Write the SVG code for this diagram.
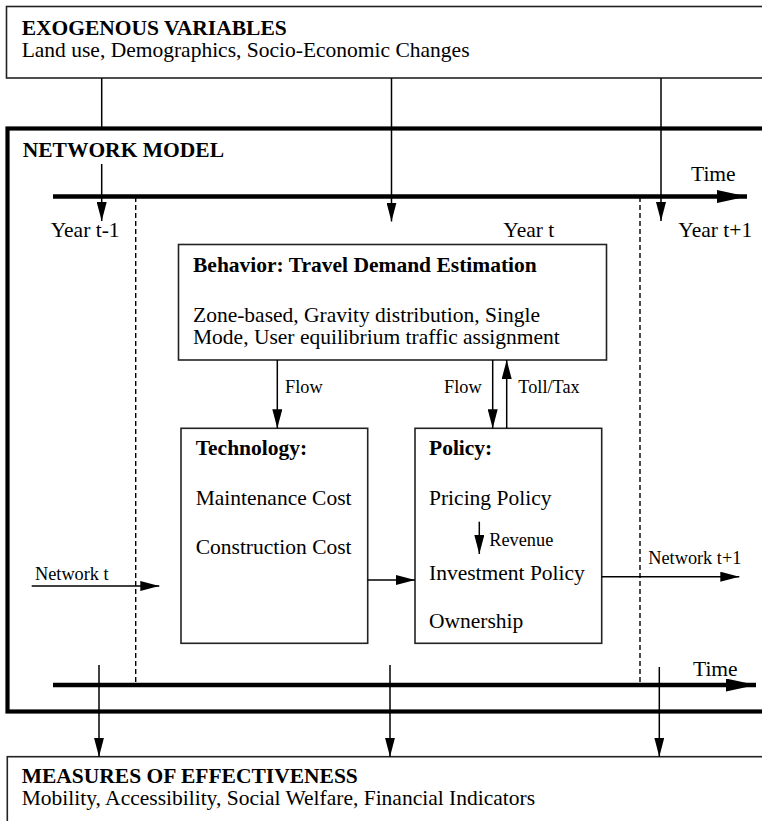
<svg xmlns="http://www.w3.org/2000/svg" width="762" height="821" viewBox="0 0 762 821">
<style>
  text { font-family: "Liberation Serif", "Times New Roman", serif; fill: #000; }
  .t { font-size: 21.5px; }
  .b { font-size: 21.5px; font-weight: bold; }
  .s { font-size: 18.3px; }
  .box { fill: #fff; stroke: #222; stroke-width: 1.6; }
  .frame { fill: none; stroke: #000; stroke-width: 4.2; }
  .ln { stroke: #000; stroke-width: 1.5; fill: none; }
  .arr { stroke: #000; stroke-width: 1.5; fill: none; marker-end: url(#ah); }
  .axis { stroke: #000; stroke-width: 4.5; fill: none; marker-end: url(#big); }
  .dash { stroke: #000; stroke-width: 1.4; stroke-dasharray: 5 3; fill: none; }
</style>
<defs>
  <marker id="ah" markerUnits="userSpaceOnUse" markerWidth="20" markerHeight="10" refX="19" refY="5" orient="auto">
    <path d="M0,0 L19,5 L0,10 z" fill="#000"/>
  </marker>
  <marker id="big" markerUnits="userSpaceOnUse" markerWidth="31" markerHeight="13" refX="30" refY="6.5" orient="auto">
    <path d="M0,0 L30,6.5 L0,13 z" fill="#000"/>
  </marker>
</defs>
<rect width="762" height="821" fill="#fff"/>

<g id="exogenous">
  <rect class="box" x="6.5" y="6.5" width="770" height="71.5"/>
  <text class="b" x="21.7" y="35">EXOGENOUS VARIABLES</text>
  <text class="t" x="21.7" y="57.3">Land use, Demographics, Socio-Economic Changes</text>
</g>

<g id="network-model">
  <rect class="frame" x="7.5" y="128.5" width="770" height="583"/>
  <text class="b" x="22.7" y="156.7">NETWORK MODEL</text>
</g>

<g id="time-axes">
  <line class="axis" x1="53" y1="196.5" x2="747" y2="196.5"/>
  <text class="t" x="691" y="180.7">Time</text>
  <line class="axis" x1="53" y1="685" x2="756" y2="685"/>
  <text class="t" x="693" y="676">Time</text>
  <line class="dash" x1="135.7" y1="197" x2="135.7" y2="685"/>
  <line class="dash" x1="640" y1="197" x2="640" y2="685"/>
  <text class="t" x="50.7" y="237">Year t-1</text>
  <text class="t" x="503.3" y="237">Year t</text>
  <text class="t" x="678.3" y="237">Year t+1</text>
</g>

<g id="behavior">
  <rect class="box" x="178.5" y="244.5" width="428" height="115.5"/>
  <text class="b" x="193" y="271.7">Behavior: Travel Demand Estimation</text>
  <text class="t" x="193" y="321.7">Zone-based, Gravity distribution, Single</text>
  <text class="t" x="193" y="344">Mode, User equilibrium traffic assignment</text>
</g>

<g id="technology">
  <rect class="box" x="181" y="428.3" width="186.7" height="215"/>
  <text class="b" x="195.7" y="455">Technology:</text>
  <text class="t" x="195.7" y="505">Maintenance Cost</text>
  <text class="t" x="195.7" y="554">Construction Cost</text>
</g>

<g id="policy">
  <rect class="box" x="415" y="428.3" width="186.7" height="215"/>
  <text class="b" x="429" y="455">Policy:</text>
  <text class="t" x="429" y="505">Pricing Policy</text>
  <text class="s" x="489.3" y="545.7">Revenue</text>
  <text class="t" x="429" y="580">Investment Policy</text>
  <text class="t" x="429" y="628">Ownership</text>
</g>

<g id="measures">
  <rect class="box" x="7.3" y="756.7" width="770" height="80"/>
  <text class="b" x="21.7" y="783.3">MEASURES OF EFFECTIVENESS</text>
  <text class="t" x="21.7" y="805">Mobility, Accessibility, Social Welfare, Financial Indicators</text>
</g>

<g id="connectors">
  <line class="ln" x1="101.7" y1="78" x2="101.7" y2="130"/>
  <line class="arr" x1="101.7" y1="164" x2="101.7" y2="221"/>
  <line class="arr" x1="391.5" y1="78" x2="391.5" y2="221.5"/>
  <line class="arr" x1="661" y1="78" x2="661" y2="221"/>

  <line class="arr" x1="277.3" y1="360" x2="277.3" y2="428.3"/>
  <text class="s" x="285" y="392.7">Flow</text>
  <line class="arr" x1="492.7" y1="360" x2="492.7" y2="428.3"/>
  <text class="s" x="481.7" y="392.7" text-anchor="end">Flow</text>
  <line class="arr" x1="506.7" y1="428.3" x2="506.7" y2="360"/>
  <text class="s" x="518.3" y="392.7">Toll/Tax</text>

  <line class="arr" x1="479.3" y1="521.7" x2="479.3" y2="554"/>

  <line class="arr" x1="31.7" y1="586" x2="159.3" y2="586"/>
  <text class="s" x="35" y="580">Network t</text>
  <line class="arr" x1="367.7" y1="580" x2="415" y2="580"/>
  <line class="arr" x1="601.7" y1="576.7" x2="739.3" y2="576.7"/>
  <text class="s" x="648.3" y="564">Network t+1</text>

  <line class="arr" x1="99" y1="665" x2="99" y2="756.7"/>
  <line class="arr" x1="390" y1="665" x2="390" y2="756.7"/>
  <line class="arr" x1="659.3" y1="667" x2="659.3" y2="756.7"/>
</g>
</svg>
